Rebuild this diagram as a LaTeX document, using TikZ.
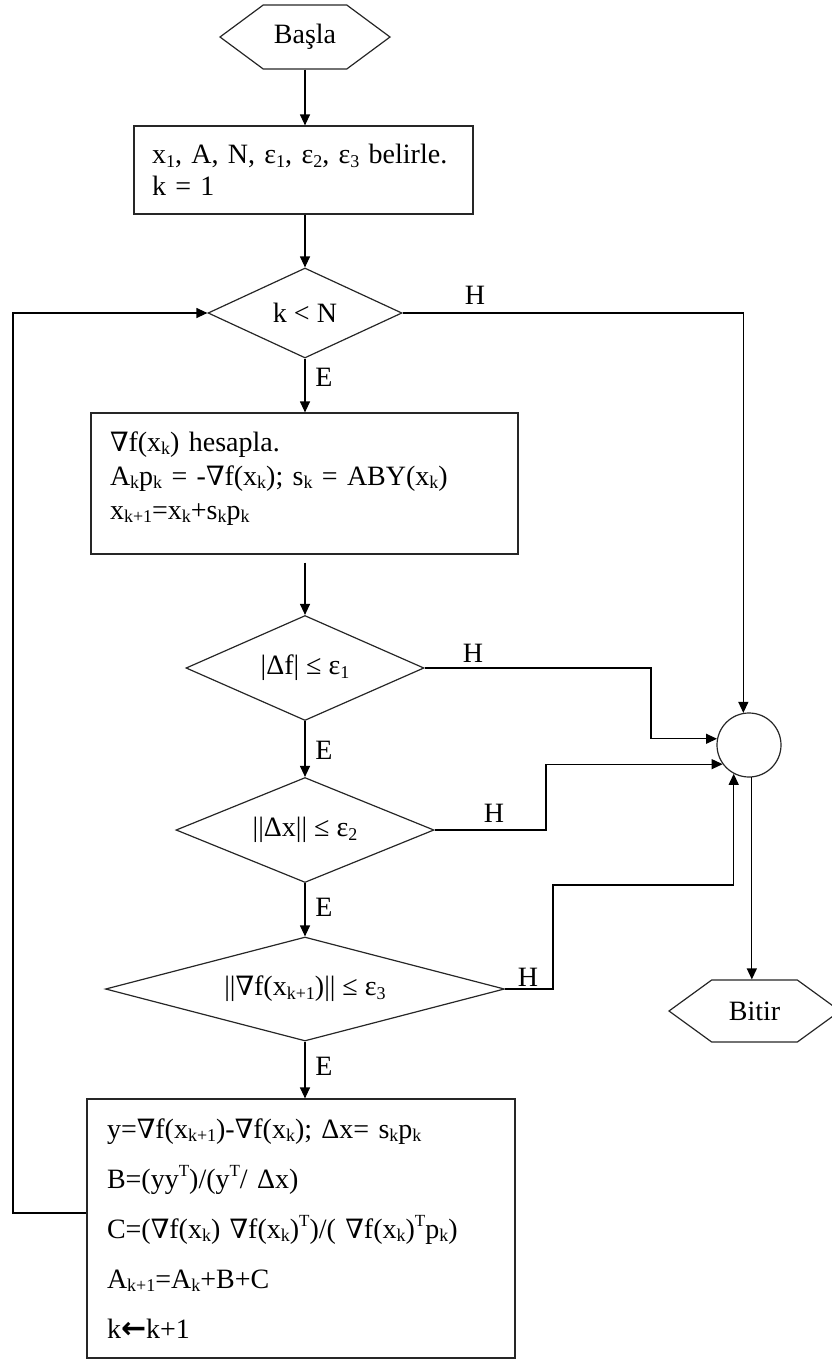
\documentclass[tikz,border=0pt]{standalone}
\usepackage{fontspec}
\setmainfont{Liberation Serif}
\newfontfamily\symf[Scale=0.95]{DejaVu Serif}
\newfontfamily\arrf{DejaVu Sans}
\usetikzlibrary{shapes.geometric,shapes.symbols,arrows.meta}
\newcommand{\nab}{{\symf ∇}}
\newcommand{\sub}[1]{\raisebox{-0.12em}{\fontsize{18pt}{18pt}\selectfont #1}}
\newcommand{\supr}[1]{\raisebox{0.42em}{\fontsize{17pt}{17pt}\selectfont #1}}
\newcommand{\lar}{{\arrf\bfseries\fontsize{30pt}{30pt}\selectfont ←}}

\begin{document}
\begin{tikzpicture}[
  x=1pt, y=-1pt,
  line width=1.2pt,
  box/.style={draw=black!85, rectangle, align=left, inner ysep=0pt, font=\fontsize{28pt}{32pt}\selectfont},
  dec/.style={draw=black!85, diamond, inner sep=0pt, font=\fontsize{28pt}{32pt}\selectfont},
  term/.style={draw=black!85, signal, signal to=west and east, signal pointer angle=73, inner sep=0pt, font=\fontsize{28pt}{32pt}\selectfont},
  sumc/.style={draw=black!85, circle, minimum size=64pt, inner sep=0pt},
  lbl/.style={inner sep=0pt, font=\fontsize{28pt}{32pt}\selectfont},
  arr/.style={-{Triangle[length=11pt,width=10pt]}, draw=black}
]
\useasboundingbox (0,0) rectangle (831,1360);

% main column
\node[term, minimum width=170pt, minimum height=64pt] (start) at (305,37) {Başla};
\node[box, text width=303pt, inner xsep=18pt, minimum height=88pt] (init) at (303.5,170)
  {x\sub{1}, A, N, ε\sub{1}, ε\sub{2}, ε\sub{3} belirle.\\ k = 1};
\node[dec, minimum width=194pt, minimum height=90pt, aspect=2.16] (knd) at (305,313) {k < N};
\node[box, text width=389pt, inner xsep=19pt, minimum height=141pt] (grad) at (304.5,483.5)
  {\nab f(x\sub{k}) hesapla.\\[2pt] A\sub{k}p\sub{k} = -\nab f(x\sub{k}); s\sub{k} = ABY(x\sub{k})\\[2pt] x\sub{k+1}=x\sub{k}+s\sub{k}p\sub{k}\\[-16pt]\mbox{}};
\node[dec, minimum width=238pt, minimum height=105pt, aspect=2.27] (dfd) at (305,668) {|Δf| ≤ ε\sub{1}};
\node[dec, minimum width=258pt, minimum height=105pt, aspect=2.46] (dxd) at (305,830) {||Δx|| ≤ ε\sub{2}};
\node[dec, minimum width=399pt, minimum height=104pt, aspect=3.84] (dgd) at (305,989) {||\nab f(x\sub{k+1})|| ≤ ε\sub{3}};
\node[box, text width=388pt, inner xsep=20pt, minimum height=259pt, font=\fontsize{28pt}{50pt}\selectfont] (upd) at (301,1228.5)
  {y=\nab f(x\sub{k+1})-\nab f(x\sub{k}); Δx= s\sub{k}p\sub{k}\\
   B=(yy\supr{T})/(y\supr{T}/ Δx)\\
   C=(\nab f(x\sub{k}) \nab f(x\sub{k})\supr{T})/( \nab f(x\sub{k})\supr{T}p\sub{k})\\
   A\sub{k+1}=A\sub{k}+B+C\\
   k\lar k+1};

% right column
\node[sumc] (sink) at (749,745) {};
\node[term, minimum width=171pt, minimum height=62pt, signal pointer angle=72] (stop) at (754.5,1011) {Bitir};

% E / H labels
\node[lbl] (e1) at (324,377) {E};
\node[lbl] (e2) at (324,750) {E};
\node[lbl] (e3) at (324,907) {E};
\node[lbl] (e4) at (324,1066) {E};
\node[lbl] (h1) at (475,295) {H};
\node[lbl] (h2) at (473,653) {H};
\node[lbl] (h3) at (494,813) {H};
\node[lbl] (h4) at (528,977) {H};

\coordinate (fb) at (13,1213);
\coordinate (j1) at (651,668);
\coordinate (j2) at (546,830);
\coordinate (j3) at (553,885);

\draw[arr] (start.south) -- (start.south |- init.north);
\draw[arr] (knd.north |- init.south) -- (knd.north);
\draw[arr] (knd.south) -- (knd.south |- grad.north);
\draw[arr, shorten <=8pt] (dfd.north |- grad.south) -- (dfd.north);
\draw[arr] (dfd.south) -- (dxd.north);
\draw[arr] (dxd.south) -- (dgd.north);
\draw[arr] (dgd.south) -- (dgd.south |- upd.north);
\draw[arr] (upd.west |- fb) -- (fb) |- (knd.west);
\draw[arr] (knd.east) -| (sink.100);
\draw[arr] (dfd.east) -- (j1) |- (sink.169);
\draw[arr] (dxd.east) -- (j2) |- (sink.216);
\draw[arr] (dgd.east) -| (j3) -| (sink.242);
\draw[arr] (sink.275) -- (sink.275 |- stop.north);
\end{tikzpicture}
\end{document}
